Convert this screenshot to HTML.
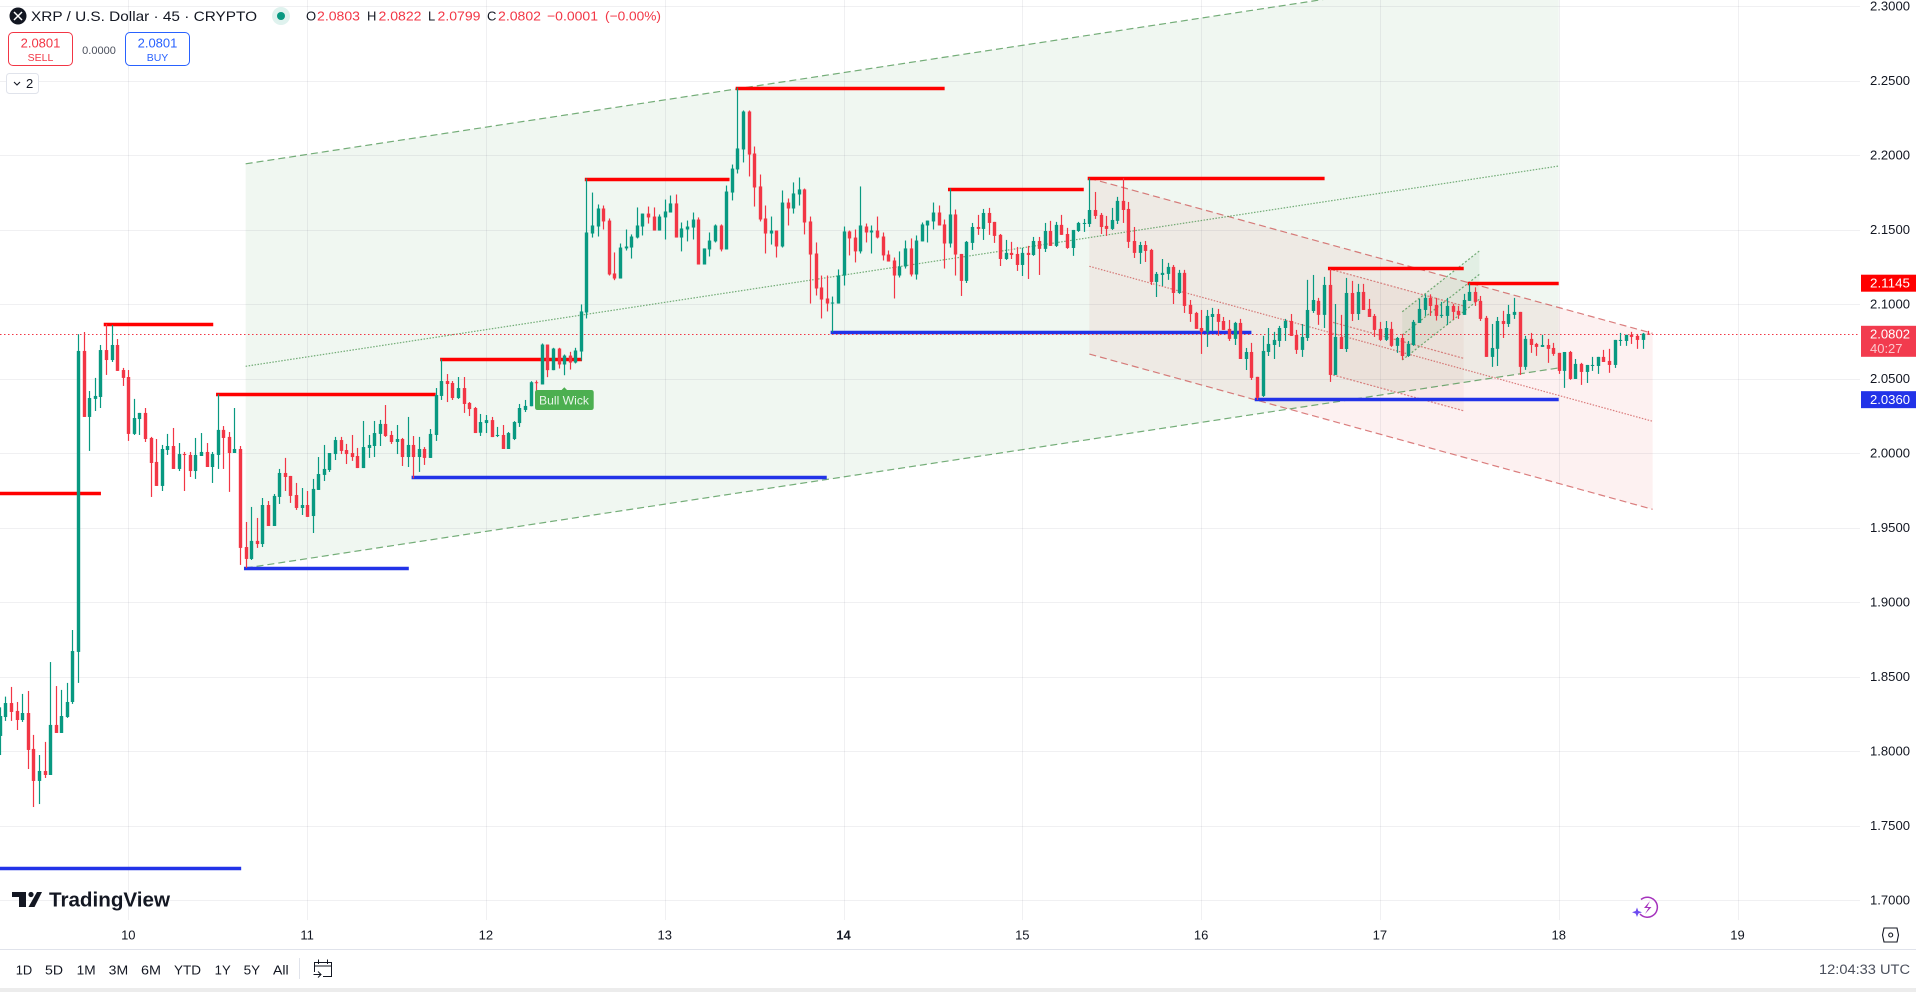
<!DOCTYPE html>
<html lang="en">
<head>
<meta charset="utf-8">
<title>XRP / U.S. Dollar 45 CRYPTO</title>
<style>
html,body{margin:0;padding:0;background:#fff;width:1916px;height:992px;overflow:hidden}
svg{display:block;font-family:"Liberation Sans",sans-serif}
text{fill:#131722}
</style>
</head>
<body>
<svg id="chart" width="1916" height="992" viewBox="0 0 1916 992" xmlns="http://www.w3.org/2000/svg">
  <defs><clipPath id="pane"><rect x="0" y="0" width="1860" height="920"/></clipPath></defs>
  <rect x="0" y="0" width="1916" height="992" fill="#ffffff"/>
  <g id="channels" clip-path="url(#pane)"></g>
  <g id="grid" clip-path="url(#pane)"></g>
  <g id="channelLines" clip-path="url(#pane)"></g>
  <g id="levels" clip-path="url(#pane)"></g>
  <g id="lastline" clip-path="url(#pane)"></g>
  <g id="candles" clip-path="url(#pane)"></g>
  <g id="yaxis"></g>
  <g id="xaxis"></g>

  <g>
    <path d="M537.5 390H561.6L564.3 387.3L567 390H591.2Q593.7 390 593.7 392.5V407.5Q593.7 410 591.2 410H537.5Q535 410 535 407.5V392.5Q535 390 537.5 390Z" fill="#4caf50"/>
    <text x="539" y="404.4" font-size="12" textLength="50" lengthAdjust="spacingAndGlyphs" style="fill:#e8f5e9">Bull Wick</text>
  </g>

  <g>
    <circle cx="18" cy="16" r="8.5" fill="#131722"/>
    <path d="M14 12L18 16L22 12M14 20L18 16L22 20" fill="none" stroke="#ffffff" stroke-width="1.5"/>
    <text x="31" y="21" font-size="14" textLength="226" lengthAdjust="spacingAndGlyphs">XRP / U.S. Dollar · 45 · CRYPTO</text>
    <circle cx="281" cy="16" r="9" fill="#dff2ee"/>
    <circle cx="281" cy="16" r="4" fill="#089981"/>
    <text x="306" y="20.5" font-size="13">O</text>
    <text x="317" y="20.5" font-size="13" textLength="43" lengthAdjust="spacingAndGlyphs" style="fill:#f23645">2.0803</text>
    <text x="367" y="20.5" font-size="13">H</text>
    <text x="378.5" y="20.5" font-size="13" textLength="43" lengthAdjust="spacingAndGlyphs" style="fill:#f23645">2.0822</text>
    <text x="428" y="20.5" font-size="13">L</text>
    <text x="437.5" y="20.5" font-size="13" textLength="43" lengthAdjust="spacingAndGlyphs" style="fill:#f23645">2.0799</text>
    <text x="487" y="20.5" font-size="13">C</text>
    <text x="498" y="20.5" font-size="13" textLength="43" lengthAdjust="spacingAndGlyphs" style="fill:#f23645">2.0802</text>
    <text x="547" y="20.5" font-size="13" textLength="51" lengthAdjust="spacingAndGlyphs" style="fill:#f23645">−0.0001</text>
    <text x="605" y="20.5" font-size="13" textLength="56" lengthAdjust="spacingAndGlyphs" style="fill:#f23645">(−0.00%)</text>
  </g>

  <g>
    <rect x="8.5" y="32.5" width="64" height="33" rx="4.5" fill="#ffffff" stroke="#f23645"/>
    <text x="40.5" y="47.3" font-size="13" text-anchor="middle" style="fill:#f23645">2.0801</text>
    <text x="40.5" y="61" font-size="10.5" text-anchor="middle" style="fill:#f23645">SELL</text>
  </g>
  <text x="99" y="54" font-size="11" text-anchor="middle" style="fill:#4a4f5c">0.0000</text>
  <g>
    <rect x="125.5" y="32.5" width="64" height="33" rx="4.5" fill="#ffffff" stroke="#2962ff"/>
    <text x="157.5" y="47.3" font-size="13" text-anchor="middle" style="fill:#2962ff">2.0801</text>
    <text x="157.5" y="61" font-size="10.5" text-anchor="middle" style="fill:#2962ff">BUY</text>
  </g>
  <g>
    <rect x="6.5" y="73.5" width="32" height="20" rx="3" fill="#ffffff" stroke="#e0e3eb"/>
    <path d="M14 82L17 85L20 82" fill="none" stroke="#131722" stroke-width="1.1"/>
    <text x="26" y="88" font-size="13">2</text>
  </g>

  <g>
    <path d="M12 892H26V907H19V897H12ZM37 892H42L34.5 907H28.5Z" fill="#131722"/>
    <circle cx="31" cy="894.5" r="2.6" fill="#131722"/>
    <text x="49" y="906.5" font-size="20" font-weight="700" textLength="121" lengthAdjust="spacingAndGlyphs">TradingView</text>
  </g>

  <g>
    <path d="M1641 899.5A10 10 0 1 1 1640 914" fill="none" stroke="#a533bd" stroke-width="1.5"/>
    <path d="M1650 901L1644 908H1648.5L1645 914L1651.5 907H1647Z" fill="#a533bd"/>
    <path d="M1637 907.5L1638.3 911L1642 912.3L1638.3 913.6L1637 917L1635.7 913.6L1632 912.3L1635.7 911Z" fill="#6d4bf0"/>
  </g>

  <g>
    <path d="M1884 928H1897L1898.5 935L1897 942H1884L1882.5 935Z" fill="none" stroke="#131722" stroke-width="1.1"/>
    <circle cx="1890.7" cy="935" r="2" fill="none" stroke="#131722" stroke-width="1.1"/>
  </g>

  <rect x="0" y="949" width="1916" height="1" fill="#e0e3eb"/>
  <rect x="0" y="988" width="1916" height="4" fill="#ececec"/>
  <g>
    <text x="15.7" y="974.5" font-size="13" textLength="16.5" lengthAdjust="spacingAndGlyphs">1D</text>
    <text x="45" y="974.5" font-size="13" textLength="18" lengthAdjust="spacingAndGlyphs">5D</text>
    <text x="76.7" y="974.5" font-size="13" textLength="19" lengthAdjust="spacingAndGlyphs">1M</text>
    <text x="108.7" y="974.5" font-size="13" textLength="19.5" lengthAdjust="spacingAndGlyphs">3M</text>
    <text x="141" y="974.5" font-size="13" textLength="20" lengthAdjust="spacingAndGlyphs">6M</text>
    <text x="174" y="974.5" font-size="13" textLength="27" lengthAdjust="spacingAndGlyphs">YTD</text>
    <text x="214.7" y="974.5" font-size="13" textLength="16" lengthAdjust="spacingAndGlyphs">1Y</text>
    <text x="243.7" y="974.5" font-size="13" textLength="16.5" lengthAdjust="spacingAndGlyphs">5Y</text>
    <text x="273" y="974.5" font-size="13" textLength="15.7" lengthAdjust="spacingAndGlyphs">All</text>
  </g>
  <rect x="299" y="958" width="1" height="21" fill="#e0e3eb"/>
  <g>
    <path d="M314.5 972V962.5H331.5V976.5H323M314.5 966H331.5M318.5 959.5V964M327.5 959.5V964M313.5 974.5H321M318 971.5L321 974.5L318 977.5" fill="none" stroke="#131722" stroke-width="1"/>
  </g>
  <text x="1819" y="974" font-size="13.5" textLength="91" lengthAdjust="spacingAndGlyphs" style="fill:#4a4f5c">12:04:33 UTC</text>
</svg>

<script>
const opens = [
1.8103,1.8230,1.8324,1.8271,1.8210,1.8257,1.8016,1.7801,1.7868,1.7841,
1.8177,1.8123,1.8230,1.8331,1.8667,2.0687,2.0244,2.0365,2.0378,2.0693,
2.0626,2.0727,2.0559,2.0512,2.0130,2.0230,2.0271,2.0103,1.9942,1.9781,
2.0022,2.0049,1.9895,1.9995,1.9989,1.9881,1.9982,2.0009,1.9908,1.9989,
2.0157,2.0110,2.0002,2.0029,1.9371,1.9291,1.9412,1.9391,1.9653,1.9512,
1.9707,1.9868,1.9848,1.9720,1.9633,1.9653,1.9579,1.9754,1.9855,1.9888,
1.9995,2.0089,2.0022,2.0002,1.9982,1.9901,2.0036,2.0049,2.0130,2.0197,
2.0123,2.0076,2.0096,1.9975,2.0056,1.9975,2.0029,1.9969,2.0123,2.0385,
2.0485,2.0472,2.0371,2.0438,2.0338,2.0304,2.0138,2.0203,2.0223,2.0116,
2.0123,2.0029,2.0096,2.0203,2.0291,2.0316,2.0477,2.0462,2.0730,2.0558,
2.0703,2.0596,2.0656,2.0609,2.0683,2.0945,2.1475,2.1522,2.1643,2.1562,
2.1207,2.1173,2.1375,2.1381,2.1448,2.1522,2.1609,2.1589,2.1495,2.1583,
2.1616,2.1677,2.1448,2.1502,2.1515,2.1569,2.1267,2.1368,2.1422,2.1529,
2.1368,2.1750,2.1905,2.2039,2.2294,2.2012,2.1791,2.1576,2.1475,2.1495,
2.1388,2.1683,2.1643,2.1737,2.1771,2.1556,2.1341,2.1113,2.1039,2.1005,
2.1005,2.1193,2.1489,2.1448,2.1355,2.1522,2.1482,2.1495,2.1455,2.1334,
2.1294,2.1193,2.1254,2.1375,2.1200,2.1422,2.1529,2.1556,2.1616,2.1536,
2.1408,2.1603,2.1338,2.1157,2.1412,2.1519,2.1506,2.1613,2.1553,2.1466,
2.1304,2.1345,2.1338,2.1264,2.1345,2.1331,2.1425,2.1372,2.1492,2.1392,
2.1533,2.1472,2.1378,2.1492,2.1539,2.1539,2.1633,2.1600,2.1526,2.1506,
2.1560,2.1694,2.1640,2.1425,2.1345,2.1398,2.1365,2.1150,2.1197,2.1204,
2.1251,2.1076,2.1211,2.0996,2.0942,2.0841,2.0815,2.0915,2.0935,2.0888,
2.0835,2.0768,2.0875,2.0633,2.0680,2.0513,2.0385,2.0680,2.0727,2.0754,
2.0841,2.0888,2.0794,2.0694,2.0774,2.0955,2.1023,2.0929,2.1130,2.0526,
2.0781,2.0700,2.1076,2.0935,2.1083,2.0969,2.0922,2.0835,2.0761,2.0835,
2.0721,2.0774,2.0653,2.0727,2.0875,2.0962,2.1043,2.0996,2.0922,2.0922,
2.0989,2.0956,2.0929,2.1023,2.1083,2.1023,2.0909,2.0647,2.0701,2.0888,
2.0868,2.0929,2.0949,2.0580,2.0768,2.0734,2.0714,2.0727,2.0707,2.0674,
2.0553,2.0680,2.0499,2.0600,2.0546,2.0586,2.0586,2.0647,2.0620,2.0593,
2.0754,2.0754,2.0795,2.0788,2.0761,2.0803];
const closes = [
1.8237,1.8324,1.8264,1.8210,1.8257,1.8009,1.7801,1.7868,1.7841,1.8177,
1.8123,1.8237,1.8331,1.8673,2.0687,2.0244,2.0371,2.0385,2.0693,2.0626,
2.0727,2.0553,2.0506,2.0130,2.0237,2.0271,2.0096,1.9935,1.9781,2.0029,
2.0049,1.9895,1.9995,1.9989,1.9881,1.9989,2.0009,1.9908,1.9995,2.0157,
2.0103,2.0002,2.0029,1.9365,1.9291,1.9412,1.9391,1.9653,1.9512,1.9714,
1.9868,1.9841,1.9714,1.9633,1.9653,1.9573,1.9761,1.9861,1.9895,2.0002,
2.0089,2.0016,1.9995,1.9975,1.9901,2.0042,2.0056,2.0136,2.0197,2.0116,
2.0076,2.0096,1.9975,2.0056,1.9975,2.0029,1.9969,2.0130,2.0391,2.0485,
2.0465,2.0371,2.0438,2.0331,2.0297,2.0136,2.0210,2.0223,2.0109,2.0123,
2.0029,2.0136,2.0210,2.0304,2.0318,2.0477,2.0471,2.0730,2.0558,2.0703,
2.0596,2.0656,2.0609,2.0690,2.0952,2.1482,2.1529,2.1643,2.1556,2.1200,
2.1173,2.1381,2.1388,2.1455,2.1529,2.1609,2.1583,2.1495,2.1589,2.1623,
2.1677,2.1448,2.1509,2.1522,2.1569,2.1267,2.1375,2.1428,2.1529,2.1368,
2.1757,2.1911,2.2046,2.2294,2.2005,2.1784,2.1569,2.1475,2.1495,2.1388,
2.1683,2.1643,2.1744,2.1771,2.1549,2.1334,2.1106,2.1032,2.1005,2.1012,
2.1193,2.1489,2.1442,2.1355,2.1529,2.1482,2.1495,2.1448,2.1328,2.1287,
2.1193,2.1254,2.1375,2.1200,2.1428,2.1536,2.1562,2.1616,2.1529,2.1408,
2.1603,2.1334,2.1157,2.1419,2.1519,2.1506,2.1613,2.1546,2.1459,2.1304,
2.1345,2.1331,2.1264,2.1345,2.1331,2.1425,2.1372,2.1492,2.1392,2.1533,
2.1466,2.1378,2.1499,2.1546,2.1546,2.1633,2.1593,2.1519,2.1506,2.1566,
2.1694,2.1633,2.1419,2.1345,2.1398,2.1358,2.1150,2.1204,2.1211,2.1251,
2.1076,2.1211,2.0989,2.0935,2.0835,2.0815,2.0922,2.0935,2.0882,2.0828,
2.0768,2.0875,2.0633,2.0680,2.0506,2.0372,2.0687,2.0734,2.0761,2.0841,
2.0888,2.0788,2.0694,2.0781,2.0962,2.1029,2.0929,2.1130,2.0526,2.0781,
2.0700,2.1076,2.0935,2.1083,2.0962,2.0915,2.0828,2.0761,2.0841,2.0721,
2.0774,2.0653,2.0734,2.0882,2.0969,2.1043,2.0989,2.0922,2.0929,2.0989,
2.0949,2.0929,2.1029,2.1083,2.1016,2.0902,2.0647,2.0707,2.0888,2.0868,
2.0935,2.0949,2.0580,2.0768,2.0727,2.0714,2.0727,2.0701,2.0667,2.0553,
2.0680,2.0499,2.0600,2.0546,2.0593,2.0593,2.0647,2.0613,2.0593,2.0761,
2.0761,2.0795,2.0781,2.0761,2.0803,2.0802];
const highs = [
1.8295,1.8367,1.8432,1.8331,1.8385,1.8405,1.8110,1.7975,1.8063,1.8599,
1.8438,1.8412,1.8459,1.8814,2.0799,2.0814,2.0418,2.0506,2.0727,2.0868,
2.0861,2.0767,2.0573,2.0559,2.0365,2.0271,2.0304,2.0110,2.0096,2.0056,
2.0130,2.0170,2.0069,2.0009,2.0009,2.0103,2.0136,2.0069,2.0009,2.0396,
2.0183,2.0143,2.0304,2.0049,1.9539,1.9640,1.9566,1.9700,1.9680,1.9727,
1.9895,1.9969,1.9848,1.9801,1.9767,1.9747,1.9828,1.9975,2.0056,2.0002,
2.0110,2.0110,2.0063,2.0123,2.0036,2.0217,2.0123,2.0217,2.0224,2.0324,
2.0150,2.0190,2.0103,2.0244,2.0116,2.0110,2.0042,2.0163,2.0438,2.0633,
2.0532,2.0485,2.0512,2.0512,2.0344,2.0311,2.0264,2.0257,2.0244,2.0177,
2.0190,2.0143,2.0216,2.0331,2.0358,2.0484,2.0489,2.0737,2.0730,2.0708,
2.0708,2.0663,2.0681,2.0708,2.0999,2.1844,2.1750,2.1670,2.1663,2.1576,
2.1348,2.1408,2.1502,2.1469,2.1650,2.1609,2.1656,2.1650,2.1603,2.1703,
2.1730,2.1737,2.1549,2.1562,2.1616,2.1583,2.1375,2.1482,2.1536,2.1536,
2.1797,2.1938,2.2455,2.2301,2.2301,2.2059,2.1871,2.1663,2.1589,2.1495,
2.1764,2.1710,2.1818,2.1851,2.1777,2.1589,2.1415,2.1193,2.1193,2.1052,
2.1234,2.1522,2.1495,2.1502,2.1791,2.1542,2.1529,2.1589,2.1482,2.1361,
2.1314,2.1355,2.1428,2.1442,2.1462,2.1549,2.1562,2.1683,2.1663,2.1569,
2.1777,2.1636,2.1338,2.1425,2.1546,2.1600,2.1640,2.1647,2.1553,2.1472,
2.1432,2.1419,2.1385,2.1378,2.1392,2.1452,2.1452,2.1546,2.1560,2.1553,
2.1600,2.1513,2.1499,2.1553,2.1573,2.1846,2.1754,2.1613,2.1593,2.1647,
2.1721,2.1846,2.1687,2.1519,2.1419,2.1425,2.1372,2.1217,2.1304,2.1278,
2.1264,2.1231,2.1231,2.1029,2.0949,2.0962,2.0962,2.0976,2.0969,2.0915,
2.0895,2.0882,2.0902,2.0707,2.0741,2.0513,2.0788,2.0841,2.0815,2.0855,
2.0902,2.0935,2.0828,2.0868,2.1164,2.1197,2.1043,2.1184,2.1237,2.1002,
2.0929,2.1177,2.1157,2.1137,2.1137,2.1036,2.0935,2.0882,2.0888,2.0882,
2.0781,2.0801,2.0754,2.0895,2.1036,2.1067,2.1067,2.1043,2.1016,2.1043,
2.1003,2.0989,2.1070,2.1141,2.1114,2.1056,2.0922,2.0868,2.0915,2.0956,
2.0996,2.1043,2.0949,2.0788,2.0808,2.0741,2.0795,2.0768,2.0741,2.0674,
2.0680,2.0687,2.0633,2.0607,2.0593,2.0647,2.0647,2.0694,2.0701,2.0761,
2.0808,2.0795,2.0815,2.0801,2.0808,2.0822];
const lows = [
1.7975,1.8204,1.8204,1.8143,1.8197,1.7881,1.7626,1.7646,1.7821,1.7841,
1.8123,1.8123,1.8224,1.8318,1.8459,2.0244,2.0016,2.0284,2.0304,2.0526,
2.0613,2.0553,2.0452,2.0083,2.0123,2.0123,2.0076,1.9707,1.9781,1.9747,
1.9989,1.9895,1.9881,1.9747,1.9841,1.9828,1.9982,1.9908,1.9801,1.9895,
1.9895,1.9741,2.0002,1.9251,1.9230,1.9284,1.9365,1.9371,1.9512,1.9512,
1.9660,1.9747,1.9667,1.9620,1.9586,1.9573,1.9465,1.9754,1.9814,1.9875,
1.9955,1.9995,1.9928,1.9949,1.9901,1.9901,1.9969,1.9975,2.0049,2.0110,
2.0063,1.9995,1.9915,1.9908,1.9832,1.9875,1.9922,1.9969,2.0083,2.0358,
2.0344,2.0358,2.0365,2.0271,2.0250,2.0136,2.0116,2.0136,2.0109,2.0109,
2.0029,2.0029,2.0089,2.0177,2.0277,2.0316,2.0395,2.0462,2.0511,2.0558,
2.0569,2.0524,2.0562,2.0603,2.0623,2.0905,2.1448,2.1455,2.1502,2.1193,
2.1162,2.1173,2.1361,2.1307,2.1442,2.1462,2.1542,2.1495,2.1495,2.1435,
2.1616,2.1448,2.1355,2.1422,2.1435,2.1267,2.1267,2.1321,2.1415,2.1355,
2.1368,2.1697,2.1878,2.1952,2.1858,2.1656,2.1556,2.1341,2.1401,2.1314,
2.1381,2.1529,2.1609,2.1663,2.1469,2.1005,2.1059,2.0905,2.0952,2.0811,
2.1005,2.1126,2.1328,2.1281,2.1341,2.1415,2.1341,2.1442,2.1294,2.1287,
2.1039,2.1180,2.1240,2.1187,2.1166,2.1422,2.1415,2.1502,2.1529,2.1240,
2.1381,2.1193,2.1056,2.1143,2.1365,2.1466,2.1432,2.1466,2.1412,2.1257,
2.1298,2.1304,2.1224,2.1190,2.1170,2.1325,2.1197,2.1351,2.1392,2.1385,
2.1466,2.1372,2.1325,2.1486,2.1486,2.1519,2.1573,2.1472,2.1459,2.1499,
2.1539,2.1546,2.1378,2.1311,2.1271,2.1284,2.1130,2.1049,2.1123,2.1164,
2.1002,2.1070,2.0942,2.0882,2.0835,2.0667,2.0714,2.0821,2.0788,2.0828,
2.0754,2.0727,2.0633,2.0559,2.0492,2.0358,2.0378,2.0653,2.0633,2.0714,
2.0754,2.0788,2.0667,2.0647,2.0754,2.0942,2.0862,2.0841,2.0479,2.0526,
2.0700,2.0680,2.0888,2.0895,2.0962,2.0915,2.0781,2.0754,2.0754,2.0714,
2.0674,2.0627,2.0647,2.0721,2.0875,2.0922,2.0922,2.0891,2.0909,2.0862,
2.0895,2.0902,2.0929,2.1023,2.0989,2.0888,2.0647,2.0580,2.0586,2.0774,
2.0848,2.0902,2.0526,2.0560,2.0674,2.0654,2.0714,2.0607,2.0654,2.0533,
2.0439,2.0493,2.0499,2.0459,2.0472,2.0553,2.0533,2.0613,2.0540,2.0573,
2.0721,2.0721,2.0734,2.0701,2.0701,2.0799];

const priceTicks = ['1.7000','1.7500','1.8000','1.8500','1.9000','1.9500','2.0000','2.0500','2.1000','2.1500','2.2000','2.2500','2.3000'];
const dayLabels = ['10','11','12','13','14','15','16','17','18','19'];
const boldDayLabel = '14';
const firstDayBar = 23;
const barsPerDay = 32;

// [first bar, last bar, price] of the horizontal swing levels
const redLevels = [[-1,18.1,1.9733],[18.6,38.2,2.0870],[38.7,78,2.0396],[78.8,104.2,2.0635],[104.7,130.6,2.1841],[131.7,169.1,2.2452],[169.7,194,2.1776],[194.7,237.1,2.1846],[237.7,262,2.1242],[262.7,279,2.1145]];
const blueLevels = [[-1,43.2,1.7215],[43.7,73.2,1.9230],[73.7,148,1.9839],[148.7,224,2.0816],[224.6,279,2.0362]];

// Channels: bar span, then start/end prices of upper, middle and lower lines
const greenChannelBars = [44,279];
const greenChannelUpper = [2.1943,2.3287];
const greenChannelMiddle = [2.0584,2.1928];
const greenChannelLower = [1.9230,2.0573];
const redChannelBars = [195,295.8];
const redChannelUpper = [2.1846,2.0805];
const redChannelMiddle = [2.1255,2.0215];
const redChannelLower = [2.0666,1.9624];
const innerRedChannelBars = [238,262];
const innerRedChannelUpper = [2.1237,2.0989];
const innerRedChannelMiddle = [2.0885,2.0637];
const innerRedChannelLower = [2.0532,2.0285];
const smallGreenChannelBars = [251,264.8];
const smallGreenChannelUpper = [2.0950,2.1358];
const smallGreenChannelMiddle = [2.0794,2.1201];
const smallGreenChannelLower = [2.0626,2.1034];

const lastPrice = 2.0802;
const lastPriceLabel = '2.0802';
const countdownLabel = '40:27';
const resistancePriceLabel = '2.1145';
const supportPriceLabel = '2.0360';

const NS = 'http://www.w3.org/2000/svg';
function xAt(bar){ return -0.2 + 5.5875 * bar; }
function yAt(price){ return 453.3 - (price - 2) * 1490; }
function make(tag, attrs, parent){
  const el = document.createElementNS(NS, tag);
  for (const k in attrs) el.setAttribute(k, attrs[k]);
  parent.appendChild(el);
  return el;
}
const gridG = document.getElementById('grid');
const channelsG = document.getElementById('channels');
const channelLinesG = document.getElementById('channelLines');
const levelsG = document.getElementById('levels');
const lastG = document.getElementById('lastline');
const candlesG = document.getElementById('candles');
const yG = document.getElementById('yaxis');
const xG = document.getElementById('xaxis');

// Grid and price axis
priceTicks.forEach(function(t){
  const y = Math.round(yAt(parseFloat(t))) + 0.5;
  const line = make('line', {x1:0, x2:1860, y1:y, y2:y, stroke:'rgba(60,70,90,0.08)', 'stroke-width':1}, gridG);
  
  
  const label = make('text', {x:1870, y:yAt(parseFloat(t)) + 4.2, 'font-size':13, textLength:40, lengthAdjust:'spacingAndGlyphs'}, yG);
  label.textContent = t;
  
  
});

// Day grid and time axis
dayLabels.forEach(function(d, n){
  const x = xAt(firstDayBar + n * barsPerDay);
  const gx = Math.round(x) + 0.5;
  const line = make('line', {x1:gx, x2:gx, y1:0, y2:920, stroke:'rgba(60,70,90,0.08)', 'stroke-width':1}, gridG);
  
  
  const label = make('text', {x:x, y:939.5, 'font-size':13, 'text-anchor':'middle', 'font-weight': d === boldDayLabel ? 700 : 400}, xG);
  label.textContent = d;
  
  
});

// Channel drawings
function drawChannel(bars, upper, middle, lower, fill, lineColor, outerDash, midDash, name){
  const x1 = xAt(bars[0]), x2 = xAt(bars[1]);
  const poly = make('polygon', {points: x1+','+yAt(upper[0])+' '+x2+','+yAt(upper[1])+' '+x2+','+yAt(lower[1])+' '+x1+','+yAt(lower[0]), fill:fill}, channelsG);
  
  
  [[upper, outerDash, 'upper'], [middle, midDash, 'middle'], [lower, outerDash, 'lower']].forEach(function(part){
    const ln = make('line', {x1:x1, x2:x2, y1:yAt(part[0][0]), y2:yAt(part[0][1]), stroke:lineColor, 'stroke-width':1.2, 'stroke-dasharray':part[1]}, channelLinesG);
    
    
  });
}
drawChannel(redChannelBars, redChannelUpper, redChannelMiddle, redChannelLower, 'rgba(220,60,50,0.07)', 'rgba(200,60,60,0.65)', '7 4', '1.5 1.5', 'red-channel');
drawChannel(innerRedChannelBars, innerRedChannelUpper, innerRedChannelMiddle, innerRedChannelLower, 'rgba(200,70,60,0.05)', 'rgba(200,60,60,0.6)', '2 1.5', '2 1.5', 'inner-red-channel');
drawChannel(greenChannelBars, greenChannelUpper, greenChannelMiddle, greenChannelLower, 'rgba(70,150,75,0.078)', 'rgba(60,140,65,0.7)', '7 4', '1.5 1.5', 'green-channel');
drawChannel(smallGreenChannelBars, smallGreenChannelUpper, smallGreenChannelMiddle, smallGreenChannelLower, 'rgba(70,150,75,0.08)', 'rgba(60,140,65,0.7)', '2 2', '2 2', 'small-green-channel');

// Swing levels
redLevels.forEach(function(l){
  const y = Math.round(yAt(l[2])) + 0.5;
  const ln = make('line', {x1:xAt(l[0]), x2:xAt(l[1]), y1:y, y2:y, stroke:'#ff0000', 'stroke-width':3.4}, levelsG);
  
  
});
blueLevels.forEach(function(l){
  const y = Math.round(yAt(l[2])) + 0.5;
  const ln = make('line', {x1:xAt(l[0]), x2:xAt(l[1]), y1:y, y2:y, stroke:'#2233e8', 'stroke-width':3.4}, levelsG);
  
  
});

// Last price line
const lastLine = make('line', {x1:0, x2:1860, y1:Math.round(yAt(lastPrice))+0.5, y2:Math.round(yAt(lastPrice))+0.5, stroke:'#f23645', 'stroke-width':1, 'stroke-dasharray':'1.5 2.5'}, lastG);



// Candles
opens.forEach(function(o, i){
  const c = closes[i], h = highs[i], l = lows[i];
  const col = c >= o ? '#089981' : '#f23645';
  const cx = Math.round(xAt(i)) + 0.5;
  const wick = make('rect', {x:cx - 0.6, y:yAt(h), width:1.2, height:Math.max(1, yAt(l) - yAt(h)), fill:col}, candlesG);
  
  
  const top = yAt(Math.max(o, c)), bot = yAt(Math.min(o, c));
  const body = make('rect', {x:cx - 1.7, y:top, width:3.4, height:Math.max(1, bot - top), fill:col}, candlesG);
  
  
});

// Price axis badges
function badge(yTop, h, bg, name){
  const r = make('rect', {x:1861, y:yTop, width:55, height:h, fill:bg}, yG);
  
  
}
function badgeText(str, y, color, name){
  const t = make('text', {x:1870, y:y, 'font-size':13, textLength:40, lengthAdjust:'spacingAndGlyphs', style:'fill:' + color}, yG);
  t.textContent = str;
  
  
}
badge(yAt(parseFloat(resistancePriceLabel)) - 8, 17, '#ff0000', 'resistance-price-badge');
badgeText(resistancePriceLabel, yAt(parseFloat(resistancePriceLabel)) + 5, '#ffffff', 'resistance-price-text');
badge(yAt(lastPrice) - 8, 31, '#f23b4e', 'last-price-badge');
badgeText(lastPriceLabel, yAt(lastPrice) + 4.5, '#ffffff', 'last-price-text');
const cd = make('text', {x:1870, y:yAt(lastPrice) + 19, 'font-size':13, textLength:32.5, lengthAdjust:'spacingAndGlyphs', style:'fill:rgba(255,255,255,0.72)'}, yG);
cd.textContent = countdownLabel;


badge(yAt(parseFloat(supportPriceLabel)) - 8.5, 17, '#2233e8', 'support-price-badge');
badgeText(supportPriceLabel, yAt(parseFloat(supportPriceLabel)) + 4.5, '#ffffff', 'support-price-text');
</script>
</body>
</html>
